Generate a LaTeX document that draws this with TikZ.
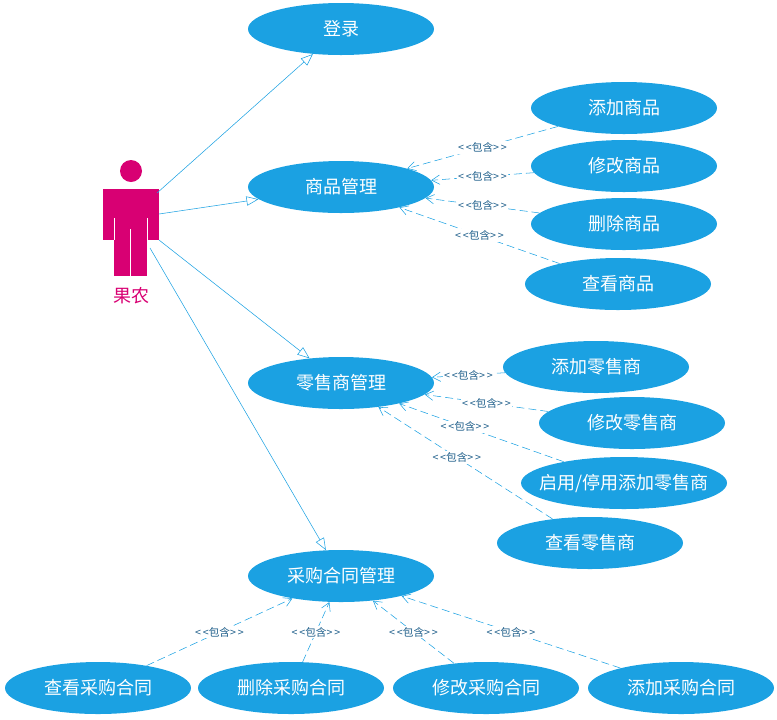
\documentclass[tikz,border=0pt]{standalone}
\usepackage{fontspec}
\setmainfont{Noto Sans CJK SC}
\usetikzlibrary{arrows.meta,shapes.geometric}
\definecolor{uc}{HTML}{1BA1E2}
\definecolor{actc}{HTML}{D80073}
\definecolor{lbl}{HTML}{1F5F8B}
\newcommand{\unitx}{0.75pt}
\newcommand{\incltxt}{{<}\,{<}包含{>}\,{>}}
\tikzset{
  usecase/.style={ellipse, fill=uc, text=white, minimum width=186*\unitx, minimum height=52*\unitx, inner sep=0pt, font=\fontsize{13.5}{13.5}\selectfont},
  assoc/.style={uc, thin, -{Triangle[open, length=9pt, width=7pt]}},
  incl/.style={uc, thin, dashed, dash pattern=on 6pt off 3pt, -{Straight Barb[length=6pt, width=7pt]}},
  inlbl/.style={fill=white, text=lbl, inner sep=1pt, font=\fontsize{8}{8}\selectfont}
}
\begin{document}
\begin{tikzpicture}[x=0.75pt, y=-0.75pt]
\useasboundingbox (0,0) rectangle (777,719);

% actor
\fill[actc] (131,171) circle (11);
\fill[actc] (103,189) rectangle (159,240);
\fill[actc] (114,189) rectangle (147,276);
\draw[white, thin] (114,218) -- (114,240) (147,218) -- (147,240) (130.5,229) -- (130.5,276);
\node[text=actc, font=\fontsize{13.5}{13.5}\selectfont] (farmer) at (131,296) {果农};
\coordinate (a1) at (157,193);
\coordinate (a2) at (159,214);
\coordinate (a3) at (159,240);
\coordinate (a4) at (150,248);

% use cases
\node[usecase] (login) at (341,29) {登录};
\node[usecase] (goods) at (341,187) {商品管理};
\node[usecase] (gadd) at (624,108) {添加商品};
\node[usecase] (gedit) at (624,166) {修改商品};
\node[usecase] (gdel) at (624,224) {删除商品};
\node[usecase] (gview) at (618,284) {查看商品};
\node[usecase] (retail) at (341,383) {零售商管理};
\node[usecase] (radd) at (596,367) {添加零售商};
\node[usecase] (redit) at (632,423) {修改零售商};
\node[usecase, minimum width=206*\unitx] (ren) at (624,483) {\makebox[90pt]{启用/停用添加零售商}};
\node[usecase] (rview) at (590,543) {查看零售商};
\node[usecase] (contract) at (341,576) {采购合同管理};
\node[usecase] (cview) at (98,688) {查看采购合同};
\node[usecase] (cdel) at (291,688) {删除采购合同};
\node[usecase] (cedit) at (486,688) {修改采购合同};
\node[usecase] (cadd) at (681,688) {添加采购合同};

% associations
\draw[assoc] (a1) -- (login);
\draw[assoc] (a2) -- (goods);
\draw[assoc] (a3) -- (retail);
\draw[assoc] (a4) -- (contract);

% includes
\draw[incl] (gadd) -- node[inlbl] {\incltxt} (goods);
\draw[incl] (gedit) -- node[inlbl] {\incltxt} (goods);
\draw[incl] (gdel) -- node[inlbl] {\incltxt} (goods);
\draw[incl] (gview) -- node[inlbl] {\incltxt} (goods);
\draw[incl] (radd) -- node[inlbl] {\incltxt} (retail);
\draw[incl] (redit) -- node[inlbl] {\incltxt} (retail);
\draw[incl] (ren) -- node[inlbl, pos=0.6] {\incltxt} (retail);
\draw[incl] (rview) -- node[inlbl, pos=0.55] {\incltxt} (retail);
\draw[incl] (cview) -- node[inlbl] {\incltxt} (contract);
\draw[incl] (cdel) -- node[inlbl] {\incltxt} (contract);
\draw[incl] (cedit) -- node[inlbl] {\incltxt} (contract);
\draw[incl] (cadd) -- node[inlbl] {\incltxt} (contract);
\end{tikzpicture}
\end{document}
